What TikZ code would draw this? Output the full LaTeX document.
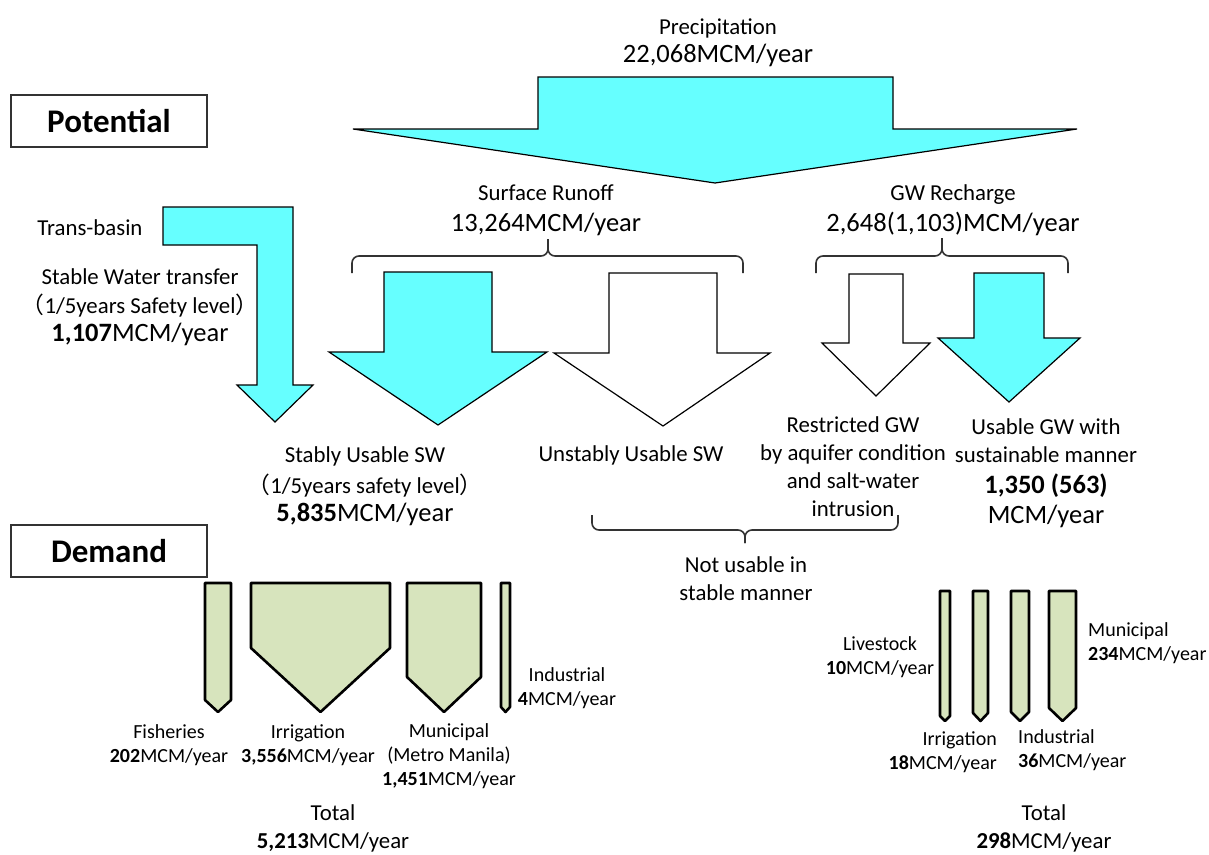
\documentclass[tikz,border=0pt]{standalone}
\usepackage{fontspec}
\setmainfont{Carlito}
\newfontfamily\cjkfont{Noto Sans CJK JP}
\usepackage{tikz}
\definecolor{watercyan}{HTML}{66FFFF}
\definecolor{needgreen}{HTML}{D7E4BD}
\newcommand{\fwlp}{{\cjkfont （}}
\newcommand{\fwrp}{{\cjkfont ）}}
\newcommand{\bigsz}{\fontsize{26.5}{31}\selectfont}
\newcommand{\midsz}{\fontsize{22.8}{28}\selectfont}
\newcommand{\smallsz}{\fontsize{20}{24}\selectfont}
\tikzset{
  flow/.style={draw=black, line width=1.2pt},
  water/.style={flow, fill=watercyan},
  lost/.style={flow, fill=white},
  need/.style={draw=black, line width=2.6pt, fill=needgreen, line join=round},
  bracket/.style={draw=black!80, line width=1.6pt, rounded corners=7pt},
  title/.style={draw=black!80, line width=1.2pt, minimum width=196pt, minimum height=52pt, font=\fontsize{33}{38}\selectfont\bfseries},
  bigtxt/.style={font=\bigsz, align=center, inner sep=0pt},
  midtxt/.style={font=\midsz, align=center, inner sep=0pt},
  smalltxt/.style={font=\smallsz, align=center, inner sep=0pt}
}
\begin{document}
\begin{tikzpicture}[x=1pt, y=-1pt]
\useasboundingbox (0,0) rectangle (1209,854);

\draw[water] (538,77) -- (893,77) -- (893,129) -- (1077,129) -- (715,183) -- (353,129) -- (538,129) -- cycle;
\draw[water] (163,207) -- (293,207) -- (293,385) -- (313,385) -- (275,422) -- (237,385) -- (257,385) -- (257,245) -- (163,245) -- cycle;
\draw[water] (384,272) -- (492,272) -- (492,352) -- (547,352) -- (438,425) -- (329,352) -- (384,352) -- cycle;
\draw[lost] (609,273) -- (717,273) -- (717,353) -- (770,353) -- (663,426) -- (554,353) -- (609,353) -- cycle;
\draw[lost] (849,274) -- (903,274) -- (903,343) -- (930,343) -- (876,396) -- (822,343) -- (849,343) -- cycle;
\draw[water] (974,273) -- (1044,273) -- (1044,338) -- (1080,338) -- (1009,402) -- (938,338) -- (974,338) -- cycle;

\draw[bracket] (352,273) -- (352,256) -- (548,256) -- (548,239);
\draw[bracket] (743,273) -- (743,256) -- (548,256) -- (548,239);
\draw[bracket] (816,273) -- (816,256) -- (942,256) -- (942,238);
\draw[bracket] (1068,273) -- (1068,256) -- (942,256) -- (942,238);
\draw[bracket] (592,515) -- (592,530) -- (745,530) -- (745,543);
\draw[bracket] (898,515) -- (898,530) -- (745,530) -- (745,543);

\node[title] (pot) at (109,121) {Potential};
\node[title] (dem) at (109,551) {Demand};

\node[midtxt] (precip) at (718,43) {Precipitation\\{\bigsz 22,068MCM/year}};
\node[midtxt] (runoff) at (546,210) {Surface Runoff\\[3pt]{\bigsz 13,264MCM/year}};
\node[midtxt] (recharge) at (953,210) {GW Recharge\\[3pt]{\bigsz 2,648(1,103)MCM/year}};
\node[midtxt] (trans) at (90,228) {Trans-basin};
\node[midtxt] (transfer) at (140,307) {Stable Water transfer\\[1pt]\fwlp 1/5years Safety level\fwrp\\{\bigsz\textbf{1,107}MCM/year}};
\node[midtxt] (stably) at (365,486) {Stably Usable SW\\[3pt]\fwlp 1/5years safety level\fwrp\\{\bigsz\textbf{5,835}MCM/year}};
\node[midtxt] (unstably) at (631,455) {Unstably Usable SW};
\node[midtxt] (restr) at (853,467) {Restricted GW\\by aquifer condition\\and salt-water\\intrusion};
\node[midtxt] (usable) at (1046,473) {Usable GW with\\sustainable manner\\[3pt]{\bigsz\textbf{1,350 (563)}}\\[2pt]{\bigsz MCM/year}};
\node[midtxt] (notuse) at (746,579) {Not usable in\\stable manner};

\draw[need] (205,583) -- (231,583) -- (231,700) -- (218,712) -- (205,700) -- cycle;
\draw[need] (251,583) -- (390,583) -- (390,648) -- (320.5,712) -- (251,648) -- cycle;
\draw[need] (407,583) -- (481,583) -- (481,677) -- (444,712) -- (407,677) -- cycle;
\draw[need] (501,583) -- (510,583) -- (510,707) -- (505.5,712) -- (501,707) -- cycle;
\draw[need] (940,591) -- (950,591) -- (950,716) -- (945,721) -- (940,716) -- cycle;
\draw[need] (973,591) -- (988,591) -- (988,713) -- (980.5,721) -- (973,713) -- cycle;
\draw[need] (1011,591) -- (1029,591) -- (1029,712) -- (1020,721) -- (1011,712) -- cycle;
\draw[need] (1049,591) -- (1076,591) -- (1076,708) -- (1062.5,721) -- (1049,708) -- cycle;

\node[smalltxt] (fish) at (169,745) {Fisheries\\\textbf{202}MCM/year};
\node[smalltxt] (irrl) at (308,745) {Irrigation\\\textbf{3,556}MCM/year};
\node[smalltxt] (munil) at (449,756) {Municipal\\(Metro Manila)\\\textbf{1,451}MCM/year};
\node[smalltxt] (indl) at (567,688) {Industrial\\\textbf{4}MCM/year};
\node[midtxt] (totl) at (333,828) {Total\\\textbf{5,213}MCM/year};

\node[smalltxt] (live) at (880,657) {Livestock\\\textbf{10}MCM/year};
\node[smalltxt, align=right, anchor=east] (irrr) at (997,752) {Irrigation\\\textbf{18}MCM/year};
\node[smalltxt, align=left, anchor=west] (indr) at (1018,750) {Industrial\\\textbf{36}MCM/year};
\node[smalltxt, align=left, anchor=west] (munir) at (1088,643) {Municipal\\\textbf{234}MCM/year};
\node[midtxt] (totr) at (1044,828) {Total\\\textbf{298}MCM/year};
\end{tikzpicture}
\end{document}
